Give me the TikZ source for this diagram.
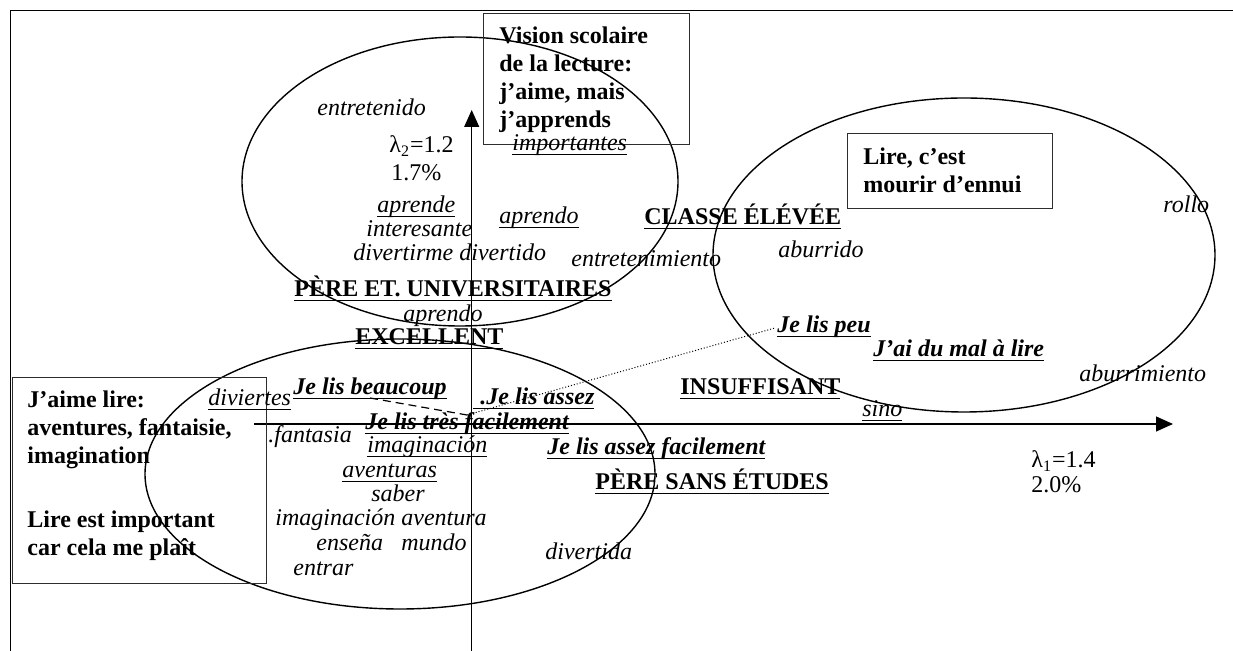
\documentclass[tikz,border=0pt]{standalone}
\usepackage{fontspec}
\setmainfont{Liberation Serif}
\usetikzlibrary{arrows.meta,shapes.geometric,calc}

% underline at a fixed depth below the baseline
\newcommand{\uln}[1]{\setbox0=\hbox{#1}\rlap{\vrule height -1.3pt depth 2.0pt width \wd0}\box0}

\definecolor{boxgray}{RGB}{45,45,45}

\tikzset{
  lbl/.style={inner sep=0pt, anchor=base west, font=\fontsize{12pt}{14pt}\selectfont},
  it/.style={lbl, font=\fontsize{12pt}{14pt}\selectfont\itshape},
  bf/.style={lbl, font=\fontsize{12pt}{14pt}\selectfont\bfseries},
  bi/.style={lbl, font=\fontsize{12pt}{14pt}\selectfont\bfseries\itshape},
  textbox/.style={draw=boxgray, line width=0.7pt, inner sep=0pt, anchor=north west},
  ring/.style={draw, ellipse, line width=0.7pt, inner sep=0pt},
  axis/.style={line width=0.55pt, -{Triangle[length=8.5pt,width=7.5pt]}},
  frame/.style={line width=0.5pt},
  link dashed/.style={line width=0.6pt, dash pattern=on 4pt off 2.5pt},
  link dotted/.style={line width=0.5pt, dash pattern=on 0.5pt off 1pt},
}

\begin{document}
\begin{tikzpicture}[x=0.5pt, y=-0.5pt]
\useasboundingbox (0,0) rectangle (1233,651);

% frame
\draw[frame] (1233,11) -- (10,11) -- (10,651);

% clusters
\node[ring, minimum width=218pt, minimum height=144.5pt] (clusterTop) at (460,181.5) {};
\node[ring, minimum width=251pt, minimum height=157pt] (clusterRight) at (964,255) {};
\node[ring, minimum width=255pt, minimum height=135pt] (clusterLeft) at (400,474) {};

% axes
\coordinate (xstart) at (254,424);
\coordinate (xend) at (1173,424);
\coordinate (ystart) at (471.7,651);
\coordinate (yend) at (471.7,110);
\draw[axis] (xstart) -- (xend);
\draw[axis] (ystart) -- (yend);

% framed captions
\node[textbox, minimum width=103pt, minimum height=65.5pt] (boxSchool) at (483,13) {};
\node[bf] (boxSchoolText) at (499,44) {\begin{tabular}[t]{@{}l@{}}Vision scolaire\\de la lecture:\\j’aime, mais\\j’apprends\end{tabular}};

\node[textbox, minimum width=102.5pt, minimum height=37.5pt] (boxBored) at (847,133) {};
\node[bf] (boxBoredText) at (863,165) {\begin{tabular}[t]{@{}l@{}}Lire, c’est\\mourir d’ennui\end{tabular}};

\node[textbox, minimum width=127pt, minimum height=103pt] (boxFun) at (12,377) {};
\node[bf] (boxFunText) at (27,408) {\begin{tabular}[t]{@{}l@{}}J’aime lire:\\aventures, fantaisie,\\imagination\\[18pt]Lire est important\\car cela me plaît\end{tabular}};

% eigenvalues
\node[lbl] (lam2) at (389,153) {λ\textsubscript{2}=1.2};
\node[lbl] (pct2) at (391,181) {1.7\%};
\node[lbl] (lam1) at (1031,468) {λ\textsubscript{1}=1.4};
\node[lbl] (pct1) at (1031,493) {2.0\%};

% upper cluster words
\node[it] (wEntretenido) at (317,116) {entretenido};
\node[it] (wImportantes) at (512,151) {\uln{importantes}};
\node[it] (wAprende) at (377,213) {\uln{aprende}};
\node[it] (wInteresante) at (366,237) {interesante};
\node[it] (wDivertirme) at (353,261) {divertirme divertido};
\node[it] (wAprendoA) at (499,224) {\uln{aprendo}};
\node[it] (wEntretenimiento) at (571,267) {entretenimiento};
\node[it] (wAprendoB) at (403,322) {aprendo};

% right cluster words
\node[it] (wAburrido) at (778,258) {aburrido};
\node[it] (wRollo) at (1163,213) {rollo};
\node[it] (wAburrimiento) at (1079,382) {aburrimiento};
\node[it] (wSino) at (862,417) {\uln{sino}};

% lower cluster words
\node[it] (wDiviertes) at (208,406) {\uln{diviertes}};
\node[it] (wFantasia) at (268,443) {.fantasia};
\node[it] (wImaginacion) at (367,453) {\uln{imaginación}};
\node[it] (wAventuras) at (342,478) {\uln{aventuras}};
\node[it] (wSaber) at (371,502) {saber};
\node[it] (wImagAvent) at (275,526) {imaginación aventura};
\node[it] (wEnsena) at (316,551) {enseña};
\node[it] (wMundo) at (401,551) {mundo};
\node[it] (wEntrar) at (293,576) {entrar};
\node[it] (wDivertida) at (545,560) {divertida};

% supplementary categories
\node[bf] (cClasse) at (644,225) {\uln{CLASSE ÉLÉVÉE}};
\node[bf] (cPereUniv) at (294,297) {\uln{PÈRE ET. UNIVERSITAIRES}};
\node[bf] (cExcellent) at (355,345) {\uln{EXCELLENT}};
\node[bf] (cInsuffisant) at (680,395) {\uln{INSUFFISANT}};
\node[bf] (cPereSans) at (595,490) {\uln{PÈRE SANS ÉTUDES}};

% reading answers
\node[bi] (rPeu) at (777,333) {\uln{Je lis peu}};
\node[bi] (rMal) at (873,357) {\uln{J’ai du mal à lire}};
\node[bi] (rBeaucoup) at (293,395) {\uln{Je lis beaucoup}};
\node[bi] (rAssez) at (473,405) {\uln{\hspace{3.5pt}.Je lis assez}};
\node[bi] (rTresFac) at (365,430) {\uln{Je lis très facilement}};
\node[bi] (rAssezFac) at (547,455) {\uln{Je lis assez facilement}};

% trajectory of reading amount
\coordinate (knot) at (467,415);
\draw[link dashed] ($(rBeaucoup.base)+(0,3)$) -- (knot);
\draw[link dotted] (knot) -- ($(rPeu.base west)+(-2,-5)$);
\end{tikzpicture}
\end{document}
